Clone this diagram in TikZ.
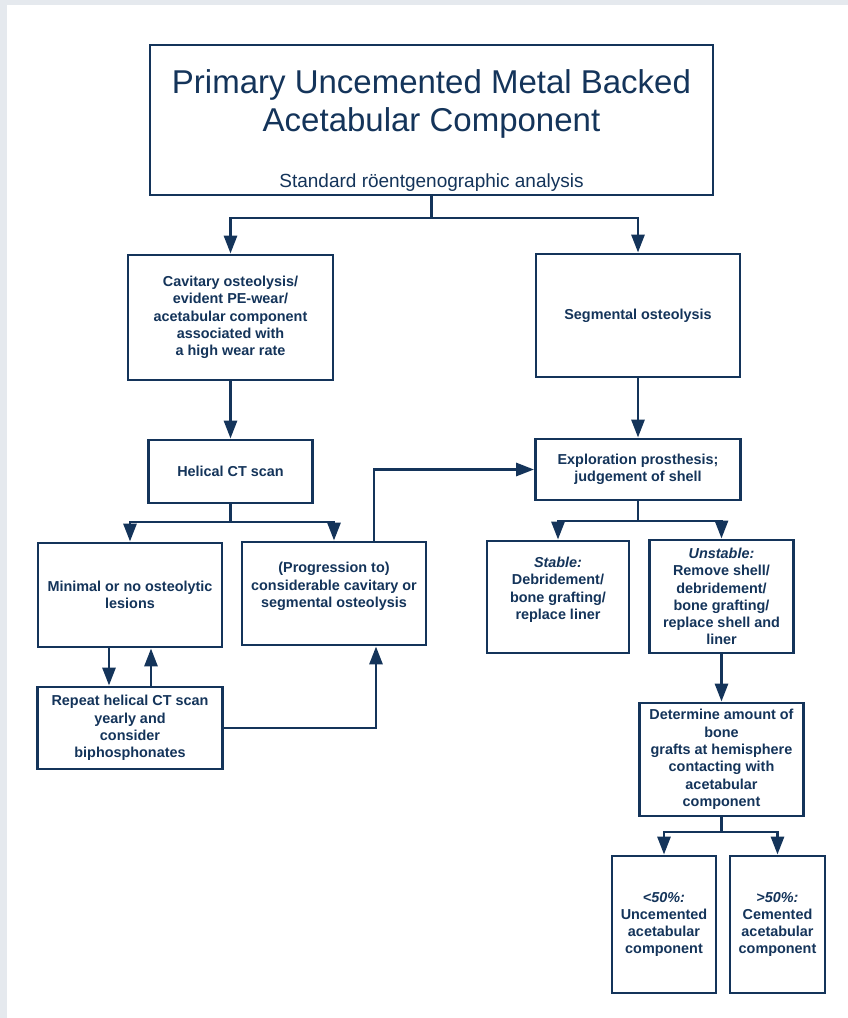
\documentclass[tikz,border=0pt]{standalone}
\usepackage{fontspec}
\setmainfont{Liberation Sans}
\usetikzlibrary{arrows.meta}
\definecolor{navy}{RGB}{20,52,90}
\definecolor{bgband}{RGB}{229,233,238}
\begin{document}
\begin{tikzpicture}[x=1pt,y=-1pt,
  box/.style={draw=navy, line width=2.9pt, text=navy, align=center, inner sep=0pt,
    font=\fontsize{14.4}{17.3}\selectfont\bfseries},
  conn/.style={draw=navy, line width=2.9pt},
  arr/.style={conn, -{Triangle[length=18pt,width=13pt]}},
  titletext/.style={text=navy, align=center, inner sep=0pt, font=\fontsize{33}{38}\selectfont},
  subtext/.style={text=navy, inner sep=0pt, font=\fontsize{19}{23}\selectfont}
]
\fill[bgband] (0,0) rectangle (848,1018);
\fill[white] (7,5) rectangle (848,1018);
\useasboundingbox (0,0) rectangle (848,1018);

% title box
\node[box, minimum width=563pt, minimum height=150pt] (title) at (431.5,120) {};
\node[titletext] (ttl) at (431.5,103.5) {Primary Uncemented Metal Backed\\Acetabular Component};
\node[subtext, anchor=base] (sub) at (431.5,187.7) {Standard röentgenographic analysis};

% left branch
\node[box, minimum width=205pt, minimum height=125pt] (cav) at (230.5,317.5)
  {Cavitary osteolysis/\\evident PE-wear/\\acetabular component\\associated with\\a high wear rate};
\node[box, minimum width=164pt, minimum height=63pt] (hel) at (230.5,471.5) {Helical CT scan};
\node[box, minimum width=184pt, minimum height=104pt] (min) at (130,595)
  {Minimal or no osteolytic\\lesions};
\node[box, minimum width=184pt, minimum height=103pt] (prog) at (334,593.5)
  {(Progression to)\\considerable cavitary or\\segmental osteolysis\\\mbox{}};
\node[box, minimum width=185pt, minimum height=82pt] (rep) at (130,728)
  {Repeat helical CT scan\\yearly and\\consider\\biphosphonates};

% right branch
\node[box, minimum width=204pt, minimum height=123pt] (seg) at (638,315.5) {Segmental osteolysis};
\node[box, minimum width=205pt, minimum height=61pt] (expl) at (638,469.5)
  {Exploration prosthesis;\\judgement of shell};
\node[box, minimum width=142pt, minimum height=112pt] (stab) at (558,597)
  {\textit{Stable:}\\Debridement/\\bone grafting/\\replace liner\\\mbox{}};
\node[box, minimum width=144pt, minimum height=113pt] (unst) at (721.5,596.5)
  {\textit{Unstable:}\\Remove shell/\\debridement/\\bone grafting/\\replace shell and\\liner};
\node[box, minimum width=164pt, minimum height=113pt] (det) at (721.5,759.5)
  {Determine amount of\\bone\\grafts at hemisphere\\contacting with\\acetabular\\component};
\node[box, minimum width=104pt, minimum height=137pt] (lt) at (664,924.5)
  {\textit{<50\%:}\\Uncemented\\acetabular\\component};
\node[box, minimum width=95pt, minimum height=137pt] (gt) at (777.5,924.5)
  {\textit{>50\%:}\\Cemented\\acetabular\\component};

% junctions
\coordinate (j1) at (431.5,218);
\coordinate (j2) at (230.5,522);
\coordinate (j3) at (638,521);
\coordinate (j4) at (721.5,832);

% connectors
\draw[conn] (title.south) -- (j1);
\draw[arr] (j1) -| (cav.north);
\draw[arr] (j1) -| (seg.north);

\draw[arr] (cav.south) -- (hel.north);
\draw[conn] (hel.south) -- (j2);
\draw[arr] (j2) -| (min.north);
\draw[arr] (j2) -| (prog.north);

\draw[arr] ([xshift=-21pt]min.south) -- ([xshift=-21pt]rep.north);
\draw[arr] ([xshift=21pt]rep.north) -- ([xshift=21pt]min.south);
\draw[arr] (rep.east) -| ([xshift=42pt]prog.south);
\draw[arr] ([xshift=40pt]prog.north) |- (expl.west);

\draw[arr] (seg.south) -- (expl.north);
\draw[conn] (expl.south) -- (j3);
\draw[arr] (j3) -| (stab.north);
\draw[arr] (j3) -| (unst.north);

\draw[arr] (unst.south) -- (det.north);
\draw[conn] (det.south) -- (j4);
\draw[arr] (j4) -| (lt.north);
\draw[arr] (j4) -| (gt.north);
\end{tikzpicture}
\end{document}
